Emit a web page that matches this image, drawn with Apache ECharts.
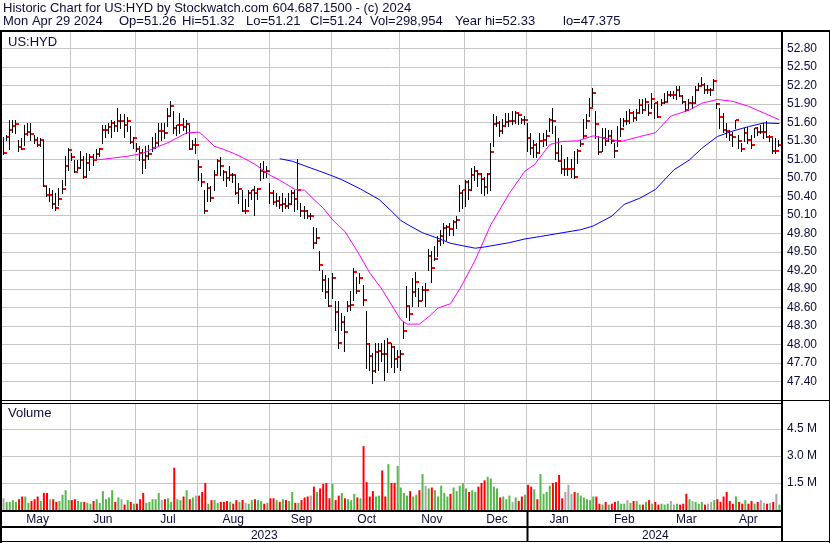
<!DOCTYPE html>
<html><head><meta charset="utf-8">
<script src="https://cdn.jsdelivr.net/npm/echarts@6/dist/echarts.min.js"></script>
<style>html,body{margin:0;padding:0;background:#fff}#c{width:830px;height:543px}</style>
</head><body><div id="c"></div>
<script>
// ---- DATA ----
const monthLabels = ['May','Jun','Jul','Aug','Sep','Oct','Nov','Dec','Jan','Feb','Mar','Apr'];
const monthCounts = [22,21,20,23,20,22,21,20,21,20,20,21]; // trading days per month
const yearLabels = ['2023','2024'];
const yearMonthCounts = [8,4];
// [high, low, close] per trading day, May 1 2023 .. Apr 29 2024
const priceBars = [
// May
[51.36,51.08,51.10],[51.40,51.32,51.36],[51.64,51.17,51.47],[51.64,51.45,51.54],[51.64,51.43,51.58],
[51.32,51.13,51.20],[51.35,51.16,51.17],[51.56,51.24,51.41],[51.59,51.40,51.44],[51.59,51.32,51.41],
[51.40,51.27,51.31],[51.37,51.21,51.23],[51.35,51.21,51.32],[51.32,50.56,50.56],[50.56,50.40,50.43],
[50.53,50.32,50.43],[50.51,50.21,50.28],[50.45,50.18,50.21],[50.53,50.26,50.35],[50.67,50.45,50.52],
[51.05,50.59,50.90],[51.19,50.83,51.15],
// Jun
[51.10,50.99,51.03],[50.99,50.80,50.80],[50.99,50.83,50.86],[51.14,50.86,50.99],[51.05,50.70,50.72],
[51.10,50.72,50.94],[51.08,50.83,51.03],[51.08,50.91,50.99],[51.16,51.00,51.08],[51.19,51.05,51.16],
[51.56,51.27,51.47],[51.56,51.37,51.48],[51.59,51.43,51.52],[51.64,51.37,51.59],[51.62,51.46,51.54],
[51.84,51.46,51.62],[51.73,51.51,51.62],[51.73,51.37,51.55],[51.68,51.46,51.62],[51.54,51.27,51.28],
[51.37,51.18,51.34],
// Jul
[51.27,51.13,51.16],[51.21,50.99,51.11],[51.16,50.78,50.99],[51.21,50.86,51.05],[51.24,51.00,51.08],
[51.37,51.13,51.19],[51.43,51.19,51.26],[51.59,51.24,51.46],[51.59,51.32,51.46],[51.59,51.35,51.43],
[51.84,51.54,51.71],[51.95,51.70,51.87],[51.78,51.43,51.50],[51.56,51.40,51.55],[51.75,51.43,51.56],
[51.67,51.48,51.53],[51.64,51.43,51.58],[51.56,51.16,51.17],[51.32,51.19,51.24],[51.35,51.10,51.24],
// Aug
[50.99,50.67,50.88],[50.78,50.56,50.63],[50.51,50.13,50.16],[50.62,50.32,50.54],[50.56,50.33,50.37],
[50.83,50.51,50.74],[51.00,50.78,50.97],[51.03,50.75,50.89],[50.83,50.67,50.80],[50.80,50.56,50.70],
[50.89,50.67,50.75],[50.78,50.64,50.74],[50.75,50.44,50.46],[50.62,50.29,50.52],[50.51,50.16,50.16],
[50.35,50.13,50.16],[50.51,50.24,50.46],[50.51,50.35,50.51],[50.56,50.10,50.46],[50.53,50.35,50.52],
[50.94,50.67,50.81],[50.97,50.70,50.80],[50.89,50.72,50.81],
// Sep
[50.62,50.29,50.46],[50.51,50.27,50.31],[50.46,50.24,50.33],[50.40,50.21,50.26],[50.46,50.16,50.28],
[50.38,50.21,50.25],[50.46,50.21,50.28],[50.51,50.27,50.46],[50.51,50.16,50.35],[51.00,50.19,50.51],
[50.30,50.08,50.17],[50.24,50.05,50.16],[50.18,50.05,50.08],[50.13,50.03,50.08],[49.91,49.56,49.64],
[49.88,49.64,49.72],[49.51,49.21,49.29],[49.21,48.86,49.04],[49.13,48.75,48.85],[49.08,48.62,48.62],
// Oct
[49.16,48.75,49.07],[48.70,48.24,48.52],[48.70,47.94,48.02],[48.51,48.24,48.37],[48.46,47.89,48.21],
[48.70,48.54,48.62],[48.86,48.56,48.64],[49.24,48.72,49.18],[49.10,48.83,48.87],[49.16,48.99,49.08],
[48.97,48.64,48.72],[48.54,47.62,48.00],[48.02,47.59,47.81],[47.86,47.375,47.57],[48.02,47.56,47.88],
[48.02,47.59,47.90],[48.02,47.73,47.85],[48.07,47.42,47.84],[48.10,47.56,48.03],[48.02,47.64,47.96],
[47.97,47.56,47.77],[47.91,47.64,47.80],
// Nov
[47.91,47.59,47.84],[48.37,48.10,48.22],[48.94,48.45,48.63],[48.62,48.40,48.50],[49.08,48.62,48.85],
[49.18,48.78,49.01],[48.91,48.62,48.70],[48.94,48.72,48.89],[49.00,48.62,48.89],[49.54,49.21,49.43],
[49.51,49.02,49.24],[49.59,49.37,49.38],[49.75,49.43,49.67],[49.86,49.62,49.75],[49.97,49.64,49.88],
[49.94,49.70,49.91],[49.97,49.78,49.87],[50.02,49.78,49.99],[50.08,49.88,50.02],[50.59,50.16,50.45],
[50.51,50.21,50.50],
// Dec
[50.67,50.24,50.64],[50.67,50.35,50.51],[50.86,50.51,50.75],[50.89,50.67,50.81],[50.83,50.56,50.76],
[50.78,50.45,50.68],[50.72,50.43,50.55],[50.78,50.45,50.76],[51.27,50.51,51.12],[51.73,51.21,51.58],
[51.70,51.54,51.59],[51.62,51.38,51.46],[51.65,51.43,51.54],[51.75,51.54,51.60],[51.75,51.54,51.62],
[51.78,51.57,51.62],[51.78,51.59,51.75],[51.75,51.57,51.72],[51.67,51.59,51.63],[51.70,51.57,51.64],
// Jan
[51.59,51.13,51.35],[51.43,51.08,51.18],[51.32,51.03,51.23],[51.27,51.03,51.11],[51.43,51.11,51.30],
[51.43,51.21,51.32],[51.48,51.24,51.38],[51.67,51.46,51.63],[51.83,51.43,51.62],[51.54,51.00,51.11],
[51.35,50.97,50.97],[51.24,50.78,50.84],[51.00,50.75,50.84],[51.03,50.75,50.84],[51.00,50.72,50.84],
[51.13,50.70,50.72],[51.16,50.94,51.14],[51.32,51.21,51.25],[51.65,51.35,51.38],[51.73,51.51,51.62],
[52.00,51.70,51.83],
// Feb
[52.16,51.86,52.08],[51.78,51.35,51.58],[51.38,51.08,51.12],[51.51,51.13,51.35],[51.51,51.24,51.30],
[51.48,51.29,51.38],[51.48,51.27,51.30],[51.27,51.03,51.14],[51.54,51.21,51.30],[51.67,51.38,51.49],
[51.67,51.54,51.62],[51.78,51.57,51.62],[51.81,51.59,51.75],[51.78,51.62,51.67],[51.82,51.64,51.75],
[51.97,51.75,51.88],[51.97,51.75,51.80],[51.99,51.83,51.93],[51.89,51.72,51.75],[52.08,51.83,51.97],
// Mar
[51.91,51.67,51.91],[51.94,51.69,51.69],[51.97,51.88,51.91],[52.08,51.91,51.93],[52.10,51.94,52.05],
[52.10,52.02,52.05],[52.10,51.99,52.05],[52.19,51.97,52.13],[52.19,52.02,52.02],[52.05,51.91,51.93],
[51.94,51.78,51.80],[51.97,51.83,51.91],[52.02,51.83,51.91],[52.19,51.91,52.13],[52.24,52.13,52.19],
[52.33,52.21,52.21],[52.24,52.08,52.13],[52.21,52.08,52.13],[52.16,52.05,52.13],[52.30,52.16,52.27],
// Apr
[51.91,51.83,51.89],[51.83,51.51,51.69],[51.75,51.45,51.48],[51.59,51.37,51.46],[51.48,51.32,51.40],
[51.45,51.21,51.37],[51.64,51.51,51.63],[51.40,51.18,51.29],[51.26,51.13,51.16],[51.51,51.29,51.43],
[51.53,51.26,51.32],[51.40,51.18,51.24],[51.51,51.37,51.51],[51.53,51.40,51.45],[51.56,51.43,51.45],
[51.59,51.35,51.45],[51.62,51.37,51.37],[51.40,51.29,51.37],[51.35,51.11,51.14],[51.35,51.11,51.14],
[51.32,51.21,51.24]
];
// daily volume, millions of shares
const volumes = [
0.65,0.45,0.45,0.55,0.45,0.6,0.75,0.75,0.4,0.5,0.6,0.75,0.5,0.95,0.95,0.6,0.6,0.45,0.5,0.85,1.1,0.55,
0.55,0.6,0.5,0.45,0.45,0.4,0.35,0.5,0.6,0.4,1.05,0.6,0.7,1.1,0.45,0.7,0.6,0.3,0.55,0.45,0.35,
0.35,0.6,0.95,0.4,0.45,0.6,0.6,0.95,0.55,0.6,0.65,0.45,2.35,0.6,0.55,0.75,1.1,0.6,0.7,0.8,
0.8,1.0,1.5,0.35,0.55,0.55,0.4,0.45,0.45,0.5,0.45,0.35,0.55,0.45,0.55,0.4,0.35,0.55,0.6,0.55,0.5,0.35,0.4,
0.65,0.65,0.55,0.45,0.6,0.55,0.5,1.0,0.4,0.4,0.55,0.7,0.75,0.8,1.3,1.0,1.2,1.45,1.5,0.65,
1.45,0.55,0.8,0.95,0.65,0.6,0.55,0.9,0.7,0.65,3.55,1.55,0.75,1.05,0.75,0.8,2.2,0.75,2.55,1.5,1.5,2.45,
1.25,0.95,0.8,1.05,0.75,0.85,1.1,2.0,1.35,1.2,1.25,1.1,0.75,1.35,0.95,0.75,0.9,1.25,1.05,1.35,1.5,
1.2,1.0,1.1,1.0,1.3,1.5,1.65,1.85,1.75,1.3,1.2,0.7,0.75,0.6,0.8,0.45,0.7,0.5,0.75,0.85,
1.4,1.3,1.15,0.6,2.0,0.9,1.0,1.35,1.5,1.55,1.95,0.65,1.0,1.4,0.9,1.0,0.95,0.8,0.7,0.6,0.55,
0.75,0.75,0.35,0.3,0.45,0.3,0.35,0.45,0.5,0.35,0.35,0.55,0.4,0.5,0.5,0.3,0.3,0.45,0.55,0.35,
0.45,0.3,0.35,0.3,0.35,0.5,0.3,0.35,0.3,0.35,0.9,0.6,0.5,0.45,0.35,0.45,0.3,0.35,0.45,0.55,
0.6,0.45,0.75,1.0,0.5,0.35,0.75,0.45,0.35,0.55,0.35,0.5,0.35,0.45,0.55,0.4,0.35,0.4,0.45,0.9,0.299
];
// moving averages: [dayIndex, value]
const maShort = [[29,51.00],[32,51.00],[35,51.02],[40,51.05],[43,51.08],[45,51.10],[48,51.17],[53,51.27],
[56,51.35],[59,51.43],[63,51.44],[64,51.40],[68,51.21],[71,51.16],[74,51.10],[77,51.03],[81,50.92],[84,50.81],
[86,50.74],[89,50.66],[94,50.51],[97,50.50],[100,50.35],[103,50.21],[106,50.02],[110,49.83],[114,49.51],
[118,49.16],[122,48.89],[125,48.64],[128,48.40],[130,48.33],[134,48.33],[137,48.45],[140,48.59],[144,48.66],
[147,48.90],[150,49.18],[152,49.37],[157,49.94],[163,50.45],[168,50.81],[171,50.91],[176,51.24],[180,51.29],
[185,51.30],[190,51.38],[195,51.33],[199,51.29],[205,51.37],[210,51.43],[215,51.70],[221,51.80],[225,51.91],
[230,51.97],[235,51.94],[240,51.86],[245,51.75],[250,51.64]];
const maLong = [[89,51.01],[93,50.97],[99,50.86],[105,50.75],[109,50.67],[115,50.52],[121,50.35],[125,50.16],
[128,50.01],[131,49.92],[135,49.81],[140,49.72],[144,49.64],[152,49.56],[155,49.58],[163,49.65],[168,49.71],
[173,49.75],[180,49.81],[186,49.86],[190,49.92],[196,50.08],[200,50.27],[205,50.37],[210,50.51],[216,50.83],
[221,50.99],[225,51.18],[230,51.37],[235,51.46],[240,51.53],[245,51.59],[250,51.58]];
const headerLine1 = 'Historic Chart for US:HYD by Stockwatch.com 604.687.1500 - (c) 2024';
const headerLine2 = ['Mon Apr 29 2024','Op=51.26','Hi=51.32','Lo=51.21','Cl=51.24','Vol=298,954','Year hi=52.33','lo=47.375'];

// ---- BUILD ----
const FONT = 'Arial, "Liberation Sans", sans-serif';
const TXT = '#0c0c38';
const GRIDC = '#c6c6c6';
const N = priceBars.length;
const cats = priceBars.map((_, i) => String(i));
const closes = priceBars.map(b => b[2]);
const monthStarts = []; { let a = 0; monthCounts.forEach(c => { monthStarts.push(a); a += c; }); }
const monthStartSet = new Set(monthStarts.slice(1));
const monthMid = {}; monthStarts.forEach((s, k) => { monthMid[s + Math.floor(monthCounts[k] / 2)] = monthLabels[k]; });
const yearStarts = []; { let m = 0; yearMonthCounts.forEach(c => { yearStarts.push(monthStarts[m]); m += c; }); }
const yearMid = {}; yearStarts.forEach((s, k) => { const e = k + 1 < yearStarts.length ? yearStarts[k + 1] : N; yearMid[s + Math.floor((e - s) / 2)] = yearLabels[k]; });
const volData = volumes.map((v, i) => ({
  value: v,
  itemStyle: { color: i === 0 ? '#a8a8a8' : closes[i] > closes[i - 1] ? '#55b84a' : closes[i] < closes[i - 1] ? '#ff0000' : '#a8a8a8' }
}));

const chart = echarts.init(document.getElementById('c'));
const lab = { color: TXT, fontFamily: FONT, fontSize: 12 };
chart.setOption({
  animation: false,
  backgroundColor: '#ffffff',
  grid: [
    { left: 2, top: 31, width: 779, height: 369 },
    { left: 2, top: 403, width: 779, height: 107 }
  ],
  xAxis: [
    { type: 'category', gridIndex: 0, data: cats, boundaryGap: true,
      axisLine: { show: false }, axisTick: { show: false }, axisLabel: { show: false },
      splitLine: { show: true, interval: i => monthStartSet.has(i), lineStyle: { color: GRIDC, width: 1 } } },
    { type: 'category', gridIndex: 1, data: cats, boundaryGap: true,
      axisLine: { show: false }, axisTick: { show: false },
      axisLabel: Object.assign({ interval: i => monthMid[i] !== undefined, formatter: (v, i) => monthMid[i] || '', margin: 4 }, lab),
      splitLine: { show: true, interval: i => monthStartSet.has(i), lineStyle: { color: GRIDC, width: 1 } } },
    { type: 'category', gridIndex: 1, data: cats, boundaryGap: true, position: 'bottom', offset: 16,
      axisLine: { show: false }, axisTick: { show: false },
      axisLabel: Object.assign({ interval: i => yearMid[i] !== undefined, formatter: (v, i) => yearMid[i] || '', margin: 4 }, lab),
      splitLine: { show: false } }
  ],
  yAxis: [
    { type: 'value', gridIndex: 0, position: 'right', min: 47.1, max: 53.08, interval: 0.3,
      axisLine: { show: false }, axisTick: { show: false },
      axisLabel: Object.assign({ margin: 6, formatter: v => (v < 47.3 || v > 52.9) ? '' : v.toFixed(2) }, lab),
      splitLine: { show: true, lineStyle: { color: GRIDC, width: 1 } } },
    { type: 'value', gridIndex: 1, position: 'right', min: 0, max: 5.95, interval: 1.5,
      axisLine: { show: false }, axisTick: { show: false },
      axisLabel: Object.assign({ margin: 6, formatter: v => (v > 0 && v < 5) ? v.toFixed(1) + ' M' : '' }, lab),
      splitLine: { show: true, lineStyle: { color: GRIDC, width: 1 } } }
  ],
  series: [
    { type: 'custom', xAxisIndex: 0, yAxisIndex: 0, clip: true,
      data: priceBars.map((b, i) => [i, b[0], b[1], b[2]]),
      encode: { x: 0, y: [1, 2, 3] },
      renderItem: (params, api) => {
        const i = api.value(0);
        const ph = api.coord([i, api.value(1)]);
        const pl = api.coord([i, api.value(2)]);
        const pc = api.coord([i, api.value(3)]);
        const x = Math.round(ph[0]) - 0.5;
        return { type: 'group', children: [
          { type: 'line', shape: { x1: x, y1: Math.round(ph[1]), x2: x, y2: Math.round(pl[1]) + 1 }, style: { stroke: '#000', lineWidth: 1 } },
          { type: 'rect', shape: { x: x + 0.5, y: Math.round(pc[1]) - 1, width: 3, height: 2 }, style: { fill: '#ff0000' } }
        ] };
      } },
    { type: 'line', xAxisIndex: 0, yAxisIndex: 0, data: maShort, showSymbol: false, symbol: 'none',
      lineStyle: { color: '#ff00ff', width: 1 }, z: 5 },
    { type: 'line', xAxisIndex: 0, yAxisIndex: 0, data: maLong, showSymbol: false, symbol: 'none',
      lineStyle: { color: '#0000ff', width: 1 }, z: 5 },
    { type: 'bar', xAxisIndex: 1, yAxisIndex: 1, data: volData, barWidth: 2 }
  ]
});

// frame + header text
const band = 779 / N;
const yearX = Math.round(chart.convertToPixel({ xAxisIndex: 1 }, String(yearStarts[1])) - band / 2) + 0.5;
const L = (x1, y1, x2, y2, w) => ({ type: 'line', silent: true, z: 100, shape: { x1, y1, x2, y2 }, style: { stroke: '#000', lineWidth: w } });
const T = (x, y, text, size) => ({ type: 'text', silent: true, z: 101, x, y, style: { text, fill: TXT, font: size + 'px ' + FONT, textVerticalAlign: 'middle' } });
const line2X = [3, 119, 182, 246, 310, 370, 455, 563];
chart.setOption({
  graphic: [
    L(0, 31, 830, 31, 2),
    L(1, 31, 1, 543, 2),
    L(782, 31, 782, 542, 2),
    L(829.5, 31, 829.5, 543, 1),
    L(0, 400.5, 830, 400.5, 1),
    L(0, 403.5, 782, 403.5, 1),
    L(0, 511, 782, 511, 2),
    L(0, 527, 782, 527, 2),
    L(0, 541.5, 830, 541.5, 1),
    L(yearX, 511, yearX, 541, 2),
    T(3, 8, headerLine1, 13),
    ...headerLine2.map((t, k) => T(line2X[k], 21, t, 13)),
    T(8, 42, 'US:HYD', 13),
    T(8, 413, 'Volume', 13)
  ]
});
</script>
</body></html>
